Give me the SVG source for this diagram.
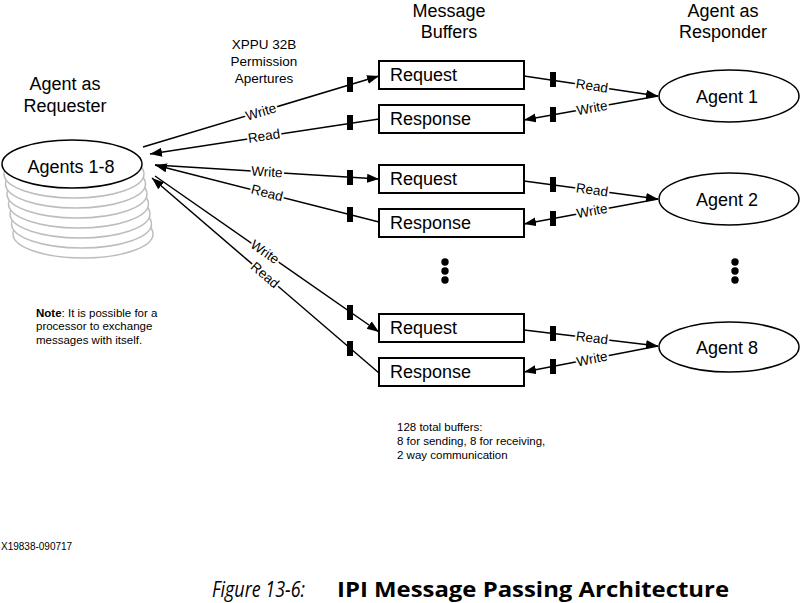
<svg xmlns="http://www.w3.org/2000/svg" width="801" height="603" viewBox="0 0 801 603">
<style>
text{font-family:"Liberation Sans",Arial,sans-serif;fill:#000}
.t18{font-size:18px}
.hd{font-size:18px;text-anchor:middle}
.sm{font-size:11.5px}
.ap{font-size:13.5px;text-anchor:middle}
.lbl{font-size:13.5px;text-anchor:middle;paint-order:stroke;stroke:#fff;stroke-width:4px;stroke-linejoin:round}
.box{fill:#fff;stroke:#000;stroke-width:2}
.ag{fill:#fff;stroke:#000;stroke-width:1.5}
.stk{fill:#fff;stroke:#bdbdbd;stroke-width:1.5}
.ln{stroke:#000;stroke-width:1.5;fill:none}
.arr{marker-end:url(#ah)}
.blk{fill:#000}
.cap{font-family:"Open Sans","Noto Sans",sans-serif;font-size:22px}
</style>
<defs>
<marker id="ah" markerUnits="userSpaceOnUse" markerWidth="13" markerHeight="10" refX="12" refY="4.5" orient="auto">
<path d="M0,0 L12,4.5 L0,9 z" fill="#000"/>
</marker>
</defs>

<g id="titles">
<text class="hd" x="65" y="90">Agent as</text>
<text class="hd" x="65" y="112">Requester</text>
<text class="hd" x="449" y="17">Message</text>
<text class="hd" x="449" y="38">Buffers</text>
<text class="hd" x="723" y="17">Agent as</text>
<text class="hd" x="723" y="38">Responder</text>
<text class="ap" x="264" y="49">XPPU 32B</text>
<text class="ap" x="264" y="66">Permission</text>
<text class="ap" x="264" y="83">Apertures</text>
</g>

<g id="requester">
<ellipse class="stk" cx="83" cy="234" rx="70" ry="24"/>
<ellipse class="stk" cx="81.5" cy="224" rx="70" ry="24"/>
<ellipse class="stk" cx="80" cy="214" rx="70" ry="24"/>
<ellipse class="stk" cx="78.5" cy="204" rx="70" ry="24"/>
<ellipse class="stk" cx="77" cy="194" rx="70" ry="24"/>
<ellipse class="stk" cx="75.5" cy="184" rx="70" ry="24"/>
<ellipse class="stk" cx="74" cy="174" rx="70" ry="24"/>
<ellipse class="ag" cx="72" cy="164" rx="70" ry="24"/>
<text class="t18" x="71" y="173" text-anchor="middle">Agents 1-8</text>
</g>

<g id="buf-req1"><rect class="box" x="379" y="61" width="145" height="28"/><text class="t18" x="390" y="81">Request</text></g>
<g id="buf-resp1"><rect class="box" x="379" y="105" width="145" height="28"/><text class="t18" x="390" y="125">Response</text></g>
<g id="buf-req2"><rect class="box" x="379" y="165" width="145" height="28"/><text class="t18" x="390" y="185">Request</text></g>
<g id="buf-resp2"><rect class="box" x="379" y="209" width="145" height="28"/><text class="t18" x="390" y="229">Response</text></g>
<g id="buf-req8"><rect class="box" x="379" y="314" width="145" height="28"/><text class="t18" x="390" y="334">Request</text></g>
<g id="buf-resp8"><rect class="box" x="379" y="358" width="145" height="28"/><text class="t18" x="390" y="378">Response</text></g>

<g id="agent1"><ellipse class="ag" cx="729" cy="96" rx="70" ry="26"/><text class="t18" x="727" y="103" text-anchor="middle">Agent 1</text></g>
<g id="agent2"><ellipse class="ag" cx="729" cy="199" rx="70" ry="26"/><text class="t18" x="727" y="206" text-anchor="middle">Agent 2</text></g>
<g id="agent8"><ellipse class="ag" cx="729" cy="347" rx="70" ry="25"/><text class="t18" x="727" y="354" text-anchor="middle">Agent 8</text></g>

<g id="connectors">
<line class="ln arr" x1="143" y1="147" x2="379" y2="76"/>
<line class="ln arr" x1="379" y1="119" x2="150" y2="154"/>
<line class="ln arr" x1="155" y1="165" x2="379" y2="179"/>
<line class="ln arr" x1="379" y1="222" x2="155" y2="165"/>
<line class="ln arr" x1="155" y1="176" x2="379" y2="332"/>
<line class="ln arr" x1="379" y1="373" x2="152" y2="178"/>
<line class="ln arr" x1="524" y1="76" x2="658" y2="96"/>
<line class="ln arr" x1="658" y1="96" x2="524" y2="120"/>
<line class="ln arr" x1="524" y1="181" x2="658" y2="199"/>
<line class="ln arr" x1="658" y1="199" x2="524" y2="224"/>
<line class="ln arr" x1="524" y1="330" x2="658" y2="346"/>
<line class="ln arr" x1="658" y1="346" x2="524" y2="372"/>
<rect class="blk" x="347" y="77" width="6" height="15"/>
<rect class="blk" x="347" y="115" width="6" height="15"/>
<rect class="blk" x="347" y="170" width="6" height="15"/>
<rect class="blk" x="347" y="207" width="6" height="15"/>
<rect class="blk" x="347" y="305" width="6" height="15"/>
<rect class="blk" x="347" y="341" width="6" height="15"/>
<rect class="blk" x="550" y="72" width="6" height="15"/>
<rect class="blk" x="550" y="107" width="6" height="15"/>
<rect class="blk" x="550" y="177" width="6" height="15"/>
<rect class="blk" x="550" y="211" width="6" height="15"/>
<rect class="blk" x="550" y="326" width="6" height="15"/>
<rect class="blk" x="550" y="359" width="6" height="15"/>
<text class="lbl" transform="translate(261,112) rotate(-16.7)" y="4.5">Write</text>
<text class="lbl" transform="translate(264,136) rotate(-8.7)" y="4.5">Read</text>
<text class="lbl" transform="translate(267,172) rotate(3.6)" y="4.5">Write</text>
<text class="lbl" transform="translate(267,193) rotate(14.3)" y="4.5">Read</text>
<text class="lbl" transform="translate(265,252) rotate(34.9)" y="4.5">Write</text>
<text class="lbl" transform="translate(265,275) rotate(40.7)" y="4.5">Read</text>
<text class="lbl" transform="translate(592,86) rotate(8.5)" y="4.5">Read</text>
<text class="lbl" transform="translate(592,108) rotate(-10.1)" y="4.5">Write</text>
<text class="lbl" transform="translate(592,190) rotate(7.7)" y="4.5">Read</text>
<text class="lbl" transform="translate(592,211) rotate(-10.6)" y="4.5">Write</text>
<text class="lbl" transform="translate(592,338) rotate(6.8)" y="4.5">Read</text>
<text class="lbl" transform="translate(592,359) rotate(-11)" y="4.5">Write</text>
</g>

<g id="dots">
<circle cx="445" cy="262" r="3.7"/>
<circle cx="445" cy="271" r="3.7"/>
<circle cx="445" cy="280" r="3.7"/>
<circle cx="735" cy="262" r="3.7"/>
<circle cx="735" cy="271" r="3.7"/>
<circle cx="735" cy="280" r="3.7"/>
</g>

<g id="notes">
<text class="sm" x="36" y="317"><tspan font-weight="bold">Note</tspan>: It is possible for a</text>
<text class="sm" x="36" y="330">processor to exchange</text>
<text class="sm" x="36" y="344">messages with itself.</text>
<text class="sm" x="397" y="431">128 total buffers:</text>
<text class="sm" x="397" y="445">8 for sending, 8 for receiving,</text>
<text class="sm" x="397" y="459">2 way communication</text>
<text x="1" y="550" font-size="10">X19838-090717</text>
</g>

<g id="caption">
<text class="cap" x="212" y="597" font-style="italic" textLength="93" lengthAdjust="spacingAndGlyphs">Figure 13-6:</text>
<text class="cap" x="337" y="597" font-weight="bold" textLength="392" lengthAdjust="spacingAndGlyphs">IPI Message Passing Architecture</text>
</g>
</svg>
